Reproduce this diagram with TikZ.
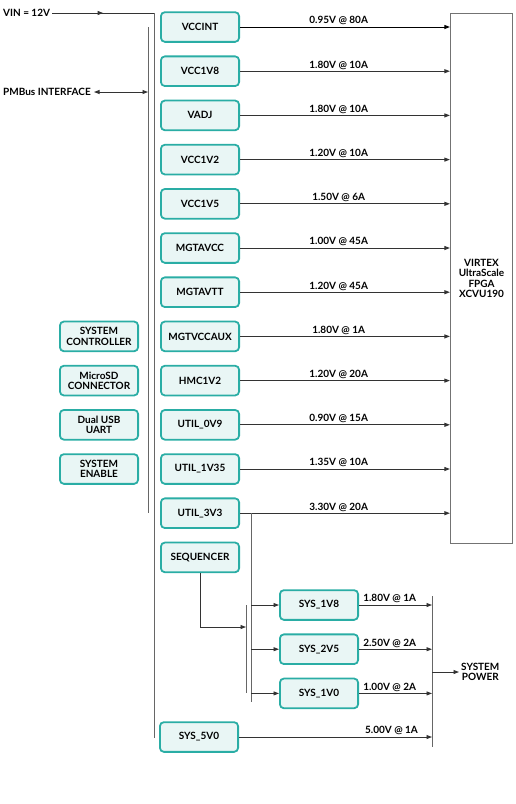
\documentclass[tikz,border=0pt]{standalone}
\usepackage{fontspec}
\setmainfont{Lato}
\usepackage{xcolor}
\usetikzlibrary{arrows.meta, positioning, calc}
\definecolor{railteal}{HTML}{2AADA5}
\definecolor{railfill}{HTML}{E9F6F5}

\begin{document}
\begin{tikzpicture}[
    x=1pt, y=-1pt,
    node distance=12.7pt,
    font=\fontsize{10}{10.5}\selectfont\bfseries,
    block/.style={
        rectangle,
        draw=railteal,
        line width=1.8pt,
        fill=railfill,
        minimum width=78.2pt,
        minimum height=29.7pt,
        align=center,
        rounded corners=4pt
    },
    fpgabox/.style={
        rectangle,
        draw=black!55,
        line width=1.2pt,
        minimum width=62pt,
        minimum height=530pt,
        align=center
    },
    rating/.style={above, pos=0.47, inner sep=1.5pt},
    line/.style={draw=black!60, line width=1pt},
    arrow/.style={-{Triangle[length=5.5pt, width=4pt]}, draw=black!80, line width=0.9pt},
    dblarrow/.style={{Triangle[length=5.5pt, width=4pt]}-{Triangle[length=5.5pt, width=4pt]}, draw=black!80, line width=0.9pt}
]
    \useasboundingbox (0,0) rectangle (515,804);

    % Regulator column
    \node [block] (vccint) at (200,27) {VCCINT};
    \node [block, below=of vccint] (vcc1v8) {VCC1V8};
    \node [block, below=of vcc1v8] (vadj) {VADJ};
    \node [block, below=of vadj] (vcc1v2) {VCC1V2};
    \node [block, below=of vcc1v2] (vcc1v5) {VCC1V5};
    \node [block, below=of vcc1v5] (mgtavcc) {MGTAVCC};
    \node [block, below=of mgtavcc] (mgtavtt) {MGTAVTT};
    \node [block, below=of mgtavtt] (mgtvccaux) {MGTVCCAUX};
    \node [block, below=of mgtvccaux] (hmc1v2) {HMC1V2};
    \node [block, below=of hmc1v2] (util0v9) {UTIL\_0V9};
    \node [block, below=of util0v9] (util1v35) {UTIL\_1V35};
    \node [block, below=of util1v35] (util3v3) {UTIL\_3V3};
    \node [block, below=of util3v3] (sequencer) {SEQUENCER};
    \node [block] (sys5v0) at (199,737) {SYS\_5V0};

    % Left side blocks
    \node [block, left=21pt of mgtvccaux] (sysctrl) {SYSTEM\\CONTROLLER};
    \node [block, left=21pt of hmc1v2] (microsd) {MicroSD\\CONNECTOR};
    \node [block, left=21pt of util0v9] (dualusb) {Dual USB\\UART};
    \node [block, left=21pt of util1v35] (sysenable) {SYSTEM\\ENABLE};

    % System rails
    \node [block] (sys1v8) at (319,605) {SYS\_1V8};
    \node [block, below=of sys1v8] (sys2v5) {SYS\_2V5};
    \node [block, below=of sys2v5] (sys1v0) {SYS\_1V0};

    % FPGA
    \node [fpgabox] (fpga) at (481.5,278.5) {VIRTEX\\UltraScale\\FPGA\\XCVU190};

    % Inputs and buses
    \node [anchor=west, inner sep=2pt] (vin) at (1,13) {VIN = 12V};
    \node [anchor=west, inner sep=3pt] (pmbus) at (0,92) {PMBus INTERFACE};
    \coordinate (vintop) at (154,13);
    \coordinate (vinbot) at (154,738);
    \coordinate (pmbtop) at (148,27);
    \coordinate (pmbbot) at (148,513);

    \draw [line, draw=black!80] (vin.east) -- (vintop);
    \draw [line] (vintop) -- (vinbot);
    \draw [arrow] (vin.east) -- ($(vin.east)!0.5!(vintop)$);
    \draw [line] (pmbtop) -- (pmbbot);
    \draw [dblarrow] (pmbus.east) -- (pmbus.east -| pmbtop);

    % Rails into the FPGA
    \draw [arrow, draw=black] (vccint.east) -- (vccint.east -| fpga.west) node[rating] {0.95V @ 80A};
    \draw [arrow] (vcc1v8.east) -- (vcc1v8.east -| fpga.west) node[rating] {1.80V @ 10A};
    \draw [arrow] (vadj.east) -- (vadj.east -| fpga.west) node[rating] {1.80V @ 10A};
    \draw [arrow] (vcc1v2.east) -- (vcc1v2.east -| fpga.west) node[rating] {1.20V @ 10A};
    \draw [arrow] (vcc1v5.east) -- (vcc1v5.east -| fpga.west) node[rating] {1.50V @ 6A};
    \draw [arrow] (mgtavcc.east) -- (mgtavcc.east -| fpga.west) node[rating] {1.00V @ 45A};
    \draw [arrow] (mgtavtt.east) -- (mgtavtt.east -| fpga.west) node[rating] {1.20V @ 45A};
    \draw [arrow] (mgtvccaux.east) -- (mgtvccaux.east -| fpga.west) node[rating] {1.80V @ 1A};
    \draw [arrow] (hmc1v2.east) -- (hmc1v2.east -| fpga.west) node[rating] {1.20V @ 20A};
    \draw [arrow] (util0v9.east) -- (util0v9.east -| fpga.west) node[rating] {0.90V @ 15A};
    \draw [arrow] (util1v35.east) -- (util1v35.east -| fpga.west) node[rating] {1.35V @ 10A};
    \draw [arrow] (util3v3.east) -- (util3v3.east -| fpga.west) node[rating] {3.30V @ 20A};

    % System power branch
    \coordinate (sysbus) at (251,702);
    \coordinate (seqtop) at (246,605);
    \coordinate (seqbot) at (246,693);
    \coordinate (pwrtop) at (432,596);
    \coordinate (pwrbot) at (432,747);

    \draw [line] (util3v3.east -| sysbus) -- (sysbus);
    \draw [line] (seqtop) -- (seqbot);
    \draw [arrow] (sequencer.south) |- ($(seqtop)!0.25!(seqbot)$);
    \draw [arrow] (sysbus |- sys1v8.west) -- (sys1v8.west);
    \draw [arrow] (sysbus |- sys2v5.west) -- (sys2v5.west);
    \draw [arrow] (sysbus |- sys1v0.west) -- (sys1v0.west);

    \draw [line] (pwrtop) -- (pwrbot);
    \draw [arrow] (sys1v8.east) -- (sys1v8.east -| pwrtop) node[rating, pos=0.42] {1.80V @ 1A};
    \draw [arrow] (sys2v5.east) -- (sys2v5.east -| pwrtop) node[rating, pos=0.42] {2.50V @ 2A};
    \draw [arrow] (sys1v0.east) -- (sys1v0.east -| pwrtop) node[rating, pos=0.42] {1.00V @ 2A};
    \draw [arrow] (sys5v0.east) -- (sys5v0.east -| pwrtop) node[rating, pos=0.79] {5.00V @ 1A};

    \node [anchor=west, align=center, inner sep=2pt] (syspower) at (459,672) {SYSTEM\\POWER};
    \draw [arrow] (pwrtop |- syspower.west) -- (syspower.west);

\end{tikzpicture}
\end{document}
